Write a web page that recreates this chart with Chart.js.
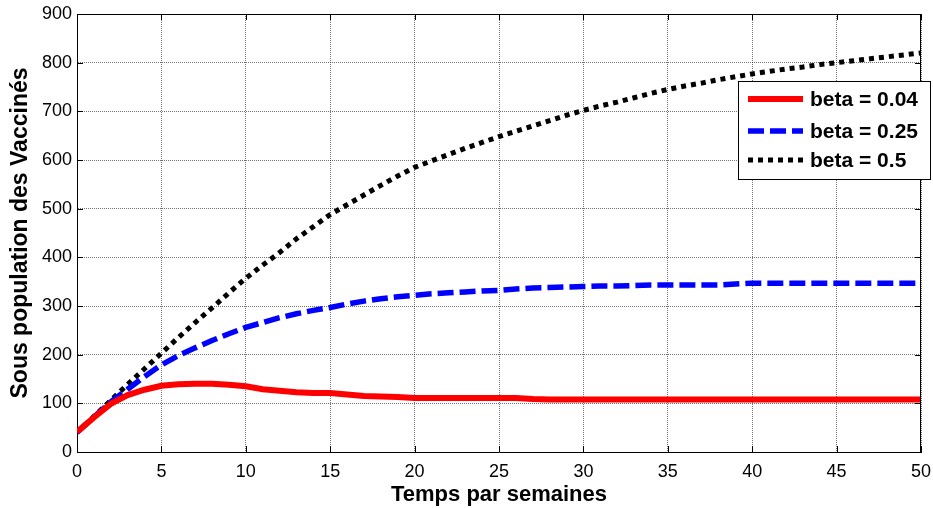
<!DOCTYPE html>
<html>
<head>
<meta charset="utf-8">
<script src="https://cdn.jsdelivr.net/npm/chart.js@4.4.0/dist/chart.umd.min.js"></script>
<style>
  html, body { margin: 0; padding: 0; background: #fff; }
  #wrap { width: 933px; height: 508px; }
</style>
</head>
<body>
<div id="wrap"><canvas id="graphe" width="933" height="508"></canvas></div>
<script>
// ------------ Données ------------

const semaines = [0, 1, 2, 3, 4, 5, 6, 7, 8, 9, 10, 11, 12, 13, 14, 15, 16, 17, 18, 19, 20,
  21, 22, 23, 24, 25, 26, 27, 28, 29, 30, 31, 32, 33, 34, 35, 36, 37, 38, 39, 40,
  41, 42, 43, 44, 45, 46, 47, 48, 49, 50];

// beta = 0.04
const vaccinesBeta004 = [41, 71, 99, 117, 128, 136, 139, 140, 140, 138, 135, 129, 126, 123, 121, 121,
  118, 115, 114, 113, 111, 111, 111, 111, 111, 111, 111, 109, 108, 108, 108, 108, 108, 108, 108,
  108, 108, 108, 108, 108, 108, 108, 108, 108, 108, 108, 108, 108, 108, 108, 108];

// beta = 0.25
const vaccinesBeta025 = [40, 72, 103, 129, 155, 179, 198, 214, 229, 243, 256, 266, 276, 284, 291, 297,
  304, 310, 315, 319, 322, 325, 327, 329, 331, 332, 335, 337, 338, 339, 340, 341, 341, 342, 343,
  343, 343, 343, 343, 345, 347, 347, 347, 347, 347, 347, 347, 347, 347, 347, 347];

// beta = 0.5
const vaccinesBeta05 = [40, 73, 106, 139, 171, 203, 235, 266, 296, 327, 357, 384, 410, 438, 463, 488,
  508, 528, 548, 567, 585, 598, 611, 624, 636, 648, 659, 670, 681, 692, 702, 711, 719, 728, 737,
  745, 752, 758, 765, 771, 777, 782, 787, 791, 796, 800, 804, 808, 812, 816, 820];

const etiquettes = ["beta = 0.04", "beta = 0.25", "beta = 0.5"];

const ticksX = [0, 5, 10, 15, 20, 25, 30, 35, 40, 45, 50];
const ticksY = [0, 100, 200, 300, 400, 500, 600, 700, 800, 900];

// ------------ Helpers ------------

const police = "'Liberation Sans', Arial, sans-serif";
const points = serie => semaines.map((s, i) => ({ x: s, y: serie[i] }));

// cadre (haut/droite), graduations vers l'intérieur et légende à la MATLAB
const cadre = {
  id: "cadre",
  afterDraw(chart) {
    const ctx = chart.ctx;
    const a = chart.chartArea;
    const sx = chart.scales.x, sy = chart.scales.y;
    ctx.save();
    ctx.strokeStyle = "#000";
    ctx.lineWidth = 1;
    ctx.setLineDash([]);
    ctx.beginPath();
    ctx.moveTo(a.left, a.top + 0.5); ctx.lineTo(a.right, a.top + 0.5);
    ctx.moveTo(a.right - 0.5, a.top); ctx.lineTo(a.right - 0.5, a.bottom);
    ticksX.forEach(v => {
      const px = Math.round(sx.getPixelForValue(v)) + 0.5;
      ctx.moveTo(px, a.bottom); ctx.lineTo(px, a.bottom - 6);
      ctx.moveTo(px, a.top); ctx.lineTo(px, a.top + 6);
    });
    ticksY.forEach(v => {
      const py = Math.round(sy.getPixelForValue(v)) + 0.5;
      ctx.moveTo(a.left, py); ctx.lineTo(a.left + 6, py);
      ctx.moveTo(a.right, py); ctx.lineTo(a.right - 6, py);
    });
    ctx.stroke();

    // légende
    const bx = 738, by = 81, bw = 192, bh = 98;
    ctx.fillStyle = "#fff";
    ctx.fillRect(bx, by, bw, bh);
    ctx.strokeRect(bx + 0.5, by + 0.5, bw, bh);
    ctx.font = "bold 21px " + police;
    ctx.textBaseline = "middle";
    [99, 131, 160].forEach((y, i) => {
      const ds = chart.data.datasets[i];
      ctx.beginPath();
      ctx.strokeStyle = ds.borderColor;
      ctx.lineWidth = ds.borderWidth;
      ctx.setLineDash(ds.borderDash || []);
      ctx.moveTo(748, y); ctx.lineTo(803, y);
      ctx.stroke();
      ctx.fillStyle = "#000";
      ctx.fillText(ds.label, 810, y + 1);
    });
    ctx.restore();
  }
};

// ------------ Graphique ------------

new Chart(document.getElementById("graphe"), {
  type: "line",
  data: {
    datasets: [
      { label: etiquettes[0], data: points(vaccinesBeta004), borderColor: "#ff0000", borderWidth: 6, borderDash: [] },
      { label: etiquettes[1], data: points(vaccinesBeta025), borderColor: "#0000ff", borderWidth: 5.5, borderDash: [16, 6] },
      { label: etiquettes[2], data: points(vaccinesBeta05), borderColor: "#000000", borderWidth: 5, borderDash: [5, 5] }
    ]
  },
  options: {
    responsive: false,
    animation: false,
    layout: { padding: { top: 14, right: 12, left: 0, bottom: 0 } },
    elements: { point: { radius: 0 }, line: { tension: 0, borderCapStyle: "butt" } },
    plugins: { legend: { display: false }, tooltip: { enabled: false } },
    scales: {
      x: {
        type: "linear", min: 0, max: 50,
        afterBuildTicks: s => { s.ticks = ticksX.map(v => ({ value: v })); },
        afterFit: s => { s.height = 56; s.paddingRight = 0; s.paddingLeft = 0; },
        ticks: { color: "#000", padding: 9, font: { family: police, size: 18 }, maxRotation: 0 },
        grid: { color: "rgba(0,0,0,0.55)", drawTicks: false },
        border: { display: true, color: "#000", width: 1, dash: [1, 1] },
        title: { display: true, text: "Temps par semaines", color: "#000",
                 font: { family: police, size: 22, weight: "bold" }, padding: { top: 3, bottom: 0 } }
      },
      y: {
        min: 0, max: 900,
        afterBuildTicks: s => { s.ticks = ticksY.map(v => ({ value: v })); },
        afterFit: s => { s.width = 77; s.paddingTop = 0; s.paddingBottom = 0; },
        ticks: { color: "#000", padding: 5, font: { family: police, size: 18 } },
        grid: { color: "rgba(0,0,0,0.55)", drawTicks: false },
        border: { display: true, color: "#000", width: 1, dash: [1, 1] },
        title: { display: true, text: "Sous population des Vaccinés", color: "#000",
                 font: { family: police, size: 23, weight: "bold" }, padding: { top: 7, bottom: 0 } }
      }
    }
  },
  plugins: [cadre]
});
</script>
</body>
</html>
